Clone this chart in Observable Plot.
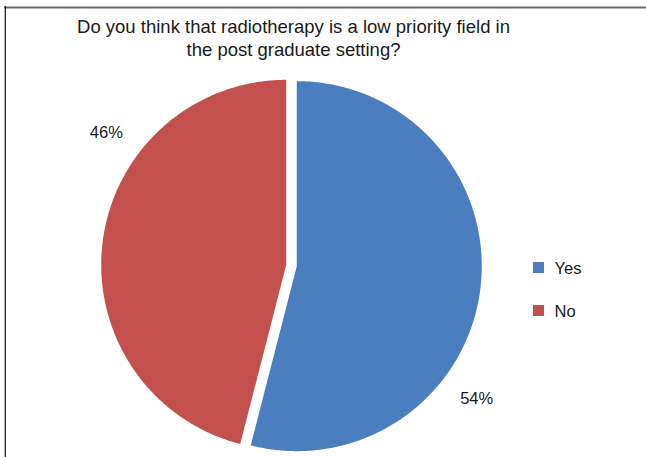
<!DOCTYPE html>
<html>
<head>
<meta charset="utf-8">
<script src="https://cdn.jsdelivr.net/npm/d3@7"></script>
<script src="https://cdn.jsdelivr.net/npm/@observablehq/plot@0.6"></script>
<style>
  html, body { margin: 0; padding: 0; background: #fff; }
  #chart svg { display: block; }
</style>
</head>
<body>
<div id="chart"></div>
<script>
// ---- data ----
const answers = ["Yes", "No"];
const percents = [54, 46];
const colors = ["#4A7EBE", "#C4504D"];
const titleLines = ["Do you think that radiotherapy is a low priority field in", "the post graduate setting?"];

// ---- layout ----
const W = 646, H = 457;
const cx = 291, cy = 265, R = 185, explode = 5.3;
const labelShift = 28.5 * Math.PI / 180, labelDist = 228;
const font = "'Liberation Sans', Arial, Helvetica, sans-serif";

// build slice polygons from the values
const total = d3.sum(percents);
const slicePts = [];
const labels = [];
let a0 = 0;
answers.forEach((ans, i) => {
  const a1 = a0 + percents[i] / total * 2 * Math.PI;
  const mid = (a0 + a1) / 2;
  const ox = cx + explode * Math.sin(mid), oy = cy - explode * Math.cos(mid);
  slicePts.push({answer: ans, x: ox, y: oy});
  const n = Math.max(2, Math.ceil((a1 - a0) / (Math.PI / 360)));
  for (let k = 0; k <= n; k++) {
    const a = a0 + (a1 - a0) * k / n;
    slicePts.push({answer: ans, x: ox + R * Math.sin(a), y: oy - R * Math.cos(a)});
  }
  slicePts.push({answer: ans, x: ox, y: oy});
  const la = mid + labelShift;
  labels.push({answer: ans, text: percents[i] + "%", x: cx + labelDist * Math.sin(la), y: cy - labelDist * Math.cos(la)});
  a0 = a1;
});

const legend = answers.map((ans, i) => ({answer: ans, x1: 533, x2: 544, y1: 262 + i * 43, y2: 273 + i * 43, tx: 554, ty: 268 + i * 43}));
const titles = titleLines.map((t, i) => ({text: t, x: 293, y: 27 + i * 23}));

const chart = Plot.plot({
  width: W, height: H,
  margin: 0,
  x: {domain: [0, W], range: [0, W], axis: null},
  y: {domain: [0, H], range: [0, H], axis: null},
  color: {domain: answers, range: colors},
  style: {fontFamily: font, background: "#fff"},
  marks: [
    Plot.ruleY([7], {x1: 4, x2: W, stroke: "#6a6a6a", strokeWidth: 2}),
    Plot.ruleX([4.8], {y1: 6, y2: H, stroke: "#222", strokeWidth: 1.3}),
    Plot.line(slicePts, {x: "x", y: "y", z: "answer", fill: "answer", stroke: "none", curve: "linear"}),
    Plot.text(labels, {x: "x", y: "y", text: "text", fontSize: 16.5, fill: "#1a1a1a"}),
    Plot.rect(legend, {x1: "x1", x2: "x2", y1: "y1", y2: "y2", fill: "answer"}),
    Plot.text(legend, {x: "tx", y: "ty", text: "answer", textAnchor: "start", fontSize: 16.5, fill: "#1a1a1a"}),
    Plot.text(titles, {x: "x", y: "y", text: "text", fontSize: 18.5, fill: "#1a1a1a"})
  ]
});
document.getElementById("chart").appendChild(chart);
</script>
</body>
</html>
